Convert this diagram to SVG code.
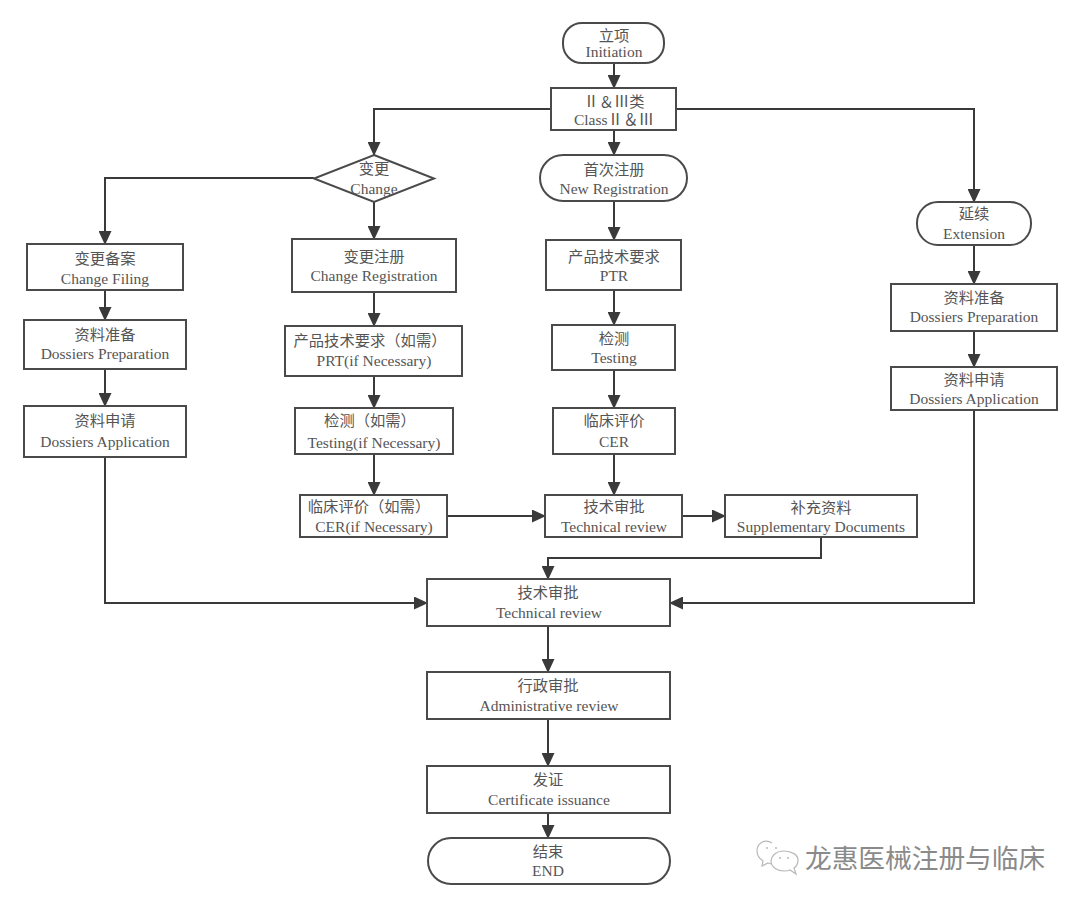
<svg xmlns="http://www.w3.org/2000/svg" width="1080" height="906" viewBox="0 0 1080 906">
<style>
.n{fill:#fff;stroke:#4a4a4a;stroke-width:2}
.c{fill:none;stroke:#3a3a3a;stroke-width:2;marker-end:url(#a)}
text{text-anchor:middle;fill:#555}
.z{font:15.300px "Noto Sans CJK SC","Liberation Sans",sans-serif}
.e{font:15.500px "Liberation Serif","Noto Sans CJK SC",serif}
.w{font:26.700px "Noto Sans CJK SC",sans-serif;fill:#8a8a8a;text-anchor:start}
.i{fill:#fff;stroke:#b8b8b8;stroke-width:1.2}
.d{fill:#b8b8b8}
</style>
<defs><marker id="a" markerUnits="userSpaceOnUse" markerWidth="14" markerHeight="13" refX="13" refY="6.500" orient="auto"><path d="M0 0L14 6.500L0 13Z" fill="#3a3a3a"/></marker></defs>
<rect width="1080" height="906" fill="#fff"/>
<g id="connectors">
<path class="c" d="M614 63V88"/>
<path class="c" d="M551 109H374V155"/>
<path class="c" d="M614 130V155"/>
<path class="c" d="M676 109H974V202"/>
<path class="c" d="M314 178H105V244"/>
<path class="c" d="M374 202V239"/>
<path class="c" d="M614 201V240"/>
<path class="c" d="M105 290V320"/>
<path class="c" d="M105 369V406"/>
<path class="c" d="M105 457V603H427"/>
<path class="c" d="M374 292V326"/>
<path class="c" d="M374 376V408"/>
<path class="c" d="M374 454V495"/>
<path class="c" d="M447 516H545"/>
<path class="c" d="M614 290V325"/>
<path class="c" d="M614 370V408"/>
<path class="c" d="M614 454V495"/>
<path class="c" d="M682 516H725"/>
<path class="c" d="M821 537V558H548V579"/>
<path class="c" d="M974 245V284"/>
<path class="c" d="M974 331V367"/>
<path class="c" d="M974 410V603H670"/>
<path class="c" d="M548 626V672"/>
<path class="c" d="M548 719V766"/>
<path class="c" d="M548 813V838"/>
</g>
<g id="initiation"><rect class="n" x="563" y="23" width="101" height="40" rx="19"/><text class="z" x="614" y="41">立项</text><text class="e" x="614" y="57">Initiation</text></g>
<g id="class"><rect class="n" x="551" y="88" width="125" height="42"/><text class="z" x="614" y="107">Ⅱ＆Ⅲ类</text><text class="e" x="614" y="125">ClassⅡ＆Ⅲ</text></g>
<g id="change"><path class="n" d="M374 155L434 178.500L374 202L314 178.500Z"/><text class="z" x="374" y="174">变更</text><text class="e" x="374" y="194">Change</text></g>
<g id="new-registration"><rect class="n" x="540" y="155" width="147" height="46" rx="23"/><text class="z" x="614" y="175">首次注册</text><text class="e" x="614" y="194">New Registration</text></g>
<g id="extension"><rect class="n" x="917" y="202" width="114" height="43" rx="21"/><text class="z" x="974" y="219">延续</text><text class="e" x="974" y="239">Extension</text></g>
<g id="change-filing"><rect class="n" x="27" y="244" width="156" height="46"/><text class="z" x="105" y="264">变更备案</text><text class="e" x="105" y="284">Change Filing</text></g>
<g id="change-registration"><rect class="n" x="292" y="239" width="164" height="53"/><text class="z" x="374" y="262">变更注册</text><text class="e" x="374" y="281">Change Registration</text></g>
<g id="ptr"><rect class="n" x="546" y="240" width="135" height="50"/><text class="z" x="614" y="262">产品技术要求</text><text class="e" x="614" y="281">PTR</text></g>
<g id="prep-left"><rect class="n" x="24" y="320" width="162" height="49"/><text class="z" x="105" y="340">资料准备</text><text class="e" x="105" y="359">Dossiers Preparation</text></g>
<g id="prt"><rect class="n" x="285" y="326" width="177" height="50"/><text class="z" x="370" y="346">产品技术要求（如需）</text><text class="e" x="374" y="366">PRT(if Necessary)</text></g>
<g id="testing"><rect class="n" x="552" y="325" width="123" height="45"/><text class="z" x="614" y="344">检测</text><text class="e" x="614" y="363">Testing</text></g>
<g id="prep-right"><rect class="n" x="891" y="284" width="166" height="47"/><text class="z" x="974" y="303">资料准备</text><text class="e" x="974" y="322">Dossiers Preparation</text></g>
<g id="app-right"><rect class="n" x="891" y="367" width="166" height="43"/><text class="z" x="974" y="385">资料申请</text><text class="e" x="974" y="404">Dossiers Application</text></g>
<g id="app-left"><rect class="n" x="24" y="406" width="162" height="51"/><text class="z" x="105" y="426">资料申请</text><text class="e" x="105" y="447">Dossiers Application</text></g>
<g id="testing-nec"><rect class="n" x="295" y="408" width="158" height="46"/><text class="z" x="370" y="426">检测（如需）</text><text class="e" x="374" y="448">Testing(if Necessary)</text></g>
<g id="cer"><rect class="n" x="553" y="408" width="122" height="46"/><text class="z" x="614" y="426">临床评价</text><text class="e" x="614" y="447">CER</text></g>
<g id="cer-nec"><rect class="n" x="300" y="495" width="147" height="42"/><text class="z" x="369" y="512">临床评价（如需）</text><text class="e" x="374" y="532">CER(if Necessary)</text></g>
<g id="tech-small"><rect class="n" x="545" y="495" width="137" height="42"/><text class="z" x="614" y="512">技术审批</text><text class="e" x="614" y="532">Technical review</text></g>
<g id="supplementary"><rect class="n" x="725" y="495" width="192" height="42"/><text class="z" x="821" y="513">补充资料</text><text class="e" x="821" y="532">Supplementary Documents</text></g>
<g id="tech-big"><rect class="n" x="427" y="579" width="243" height="47"/><text class="z" x="548" y="598">技术审批</text><text class="e" x="549" y="618">Technical review</text></g>
<g id="admin"><rect class="n" x="427" y="672" width="243" height="47"/><text class="z" x="548" y="691">行政审批</text><text class="e" x="549" y="711">Administrative review</text></g>
<g id="certificate"><rect class="n" x="427" y="766" width="243" height="47"/><text class="z" x="548" y="785">发证</text><text class="e" x="549" y="805">Certificate issuance</text></g>
<g id="end"><rect class="n" x="428" y="838" width="242" height="46" rx="23"/><text class="z" x="548" y="857">结束</text><text class="e" x="548" y="876">END</text></g>
<g id="watermark">
<path class="i" d="M772 843C764 838 757 844 757 851C757 856 760 859 763 861L762 866L768 863C770 864 772 864 774 864"/>
<path class="i" d="M784 851C775 851 771 857 771 861C771 867 777 871 784 871C786 871 788 871 790 870L796 874L794 868C797 866 798 863 798 860C798 855 792 851 784 851Z"/>
<circle class="d" cx="767" cy="848" r="1"/><circle class="d" cx="776" cy="848" r="1"/><circle class="d" cx="780" cy="858" r="1"/><circle class="d" cx="788" cy="858" r="1"/>
<text class="w" x="805" y="868">龙惠医械注册与临床</text>
</g>
</svg>
